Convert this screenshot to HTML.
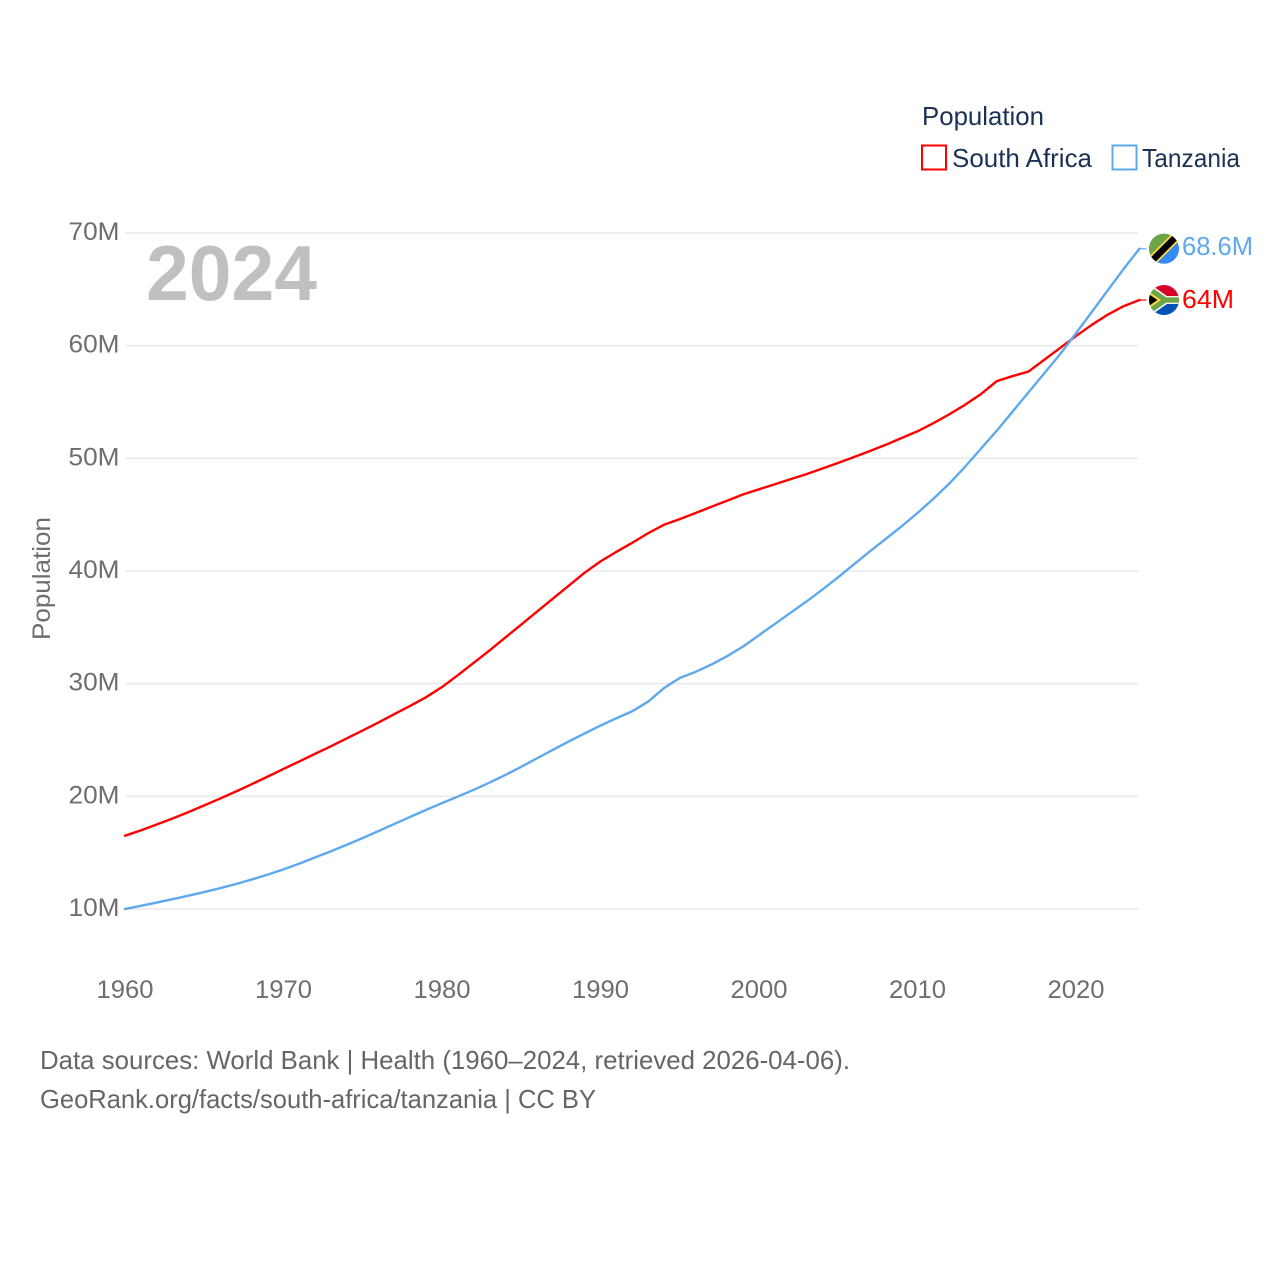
<!DOCTYPE html>
<html lang="en">
<head>
<meta charset="utf-8">
<title>Population: South Africa and Tanzania</title>
<style>
html,body{margin:0;padding:0;background:#fff;}
svg{display:block;font-family:"Liberation Sans",sans-serif;}
</style>
</head>
<body>
<svg id="chart" xmlns="http://www.w3.org/2000/svg" width="1280" height="1280" viewBox="0 0 1280 1280">
  <defs>
    <clipPath id="tz-clip"><circle cx="0" cy="0" r="15"/></clipPath>
    <clipPath id="za-clip"><circle cx="0" cy="0" r="15"/></clipPath>
  </defs>
  <rect width="1280" height="1280" fill="#ffffff"/>
  <g id="grid"></g>
  <text x="146" y="300" font-size="78" font-weight="700" fill="#c0c0c0" textLength="171" lengthAdjust="spacingAndGlyphs">2024</text>
  <g id="y-ticks"></g>
  <g id="x-ticks"></g>
  <text transform="translate(50 640) rotate(-90)" font-size="25" fill="#6e6e6e" textLength="123" lengthAdjust="spacingAndGlyphs">Population</text>
  <g id="series"></g>

  <g>
    <text x="922" y="125" font-size="26" fill="#1b3153" textLength="122" lengthAdjust="spacingAndGlyphs">Population</text>
    <g>
      <rect x="922" y="145.5" width="24" height="24" fill="#ffffff" stroke="#ff0000" stroke-width="2"/>
      <text x="952" y="167" font-size="26" fill="#1b3153" textLength="140" lengthAdjust="spacingAndGlyphs">South Africa</text>
    </g>
    <g>
      <rect x="1112.5" y="145.5" width="24" height="24" fill="#ffffff" stroke="#5fa8ee" stroke-width="2"/>
      <text x="1142" y="167" font-size="26" fill="#1b3153" textLength="98" lengthAdjust="spacingAndGlyphs">Tanzania</text>
    </g>
  </g>

  <g id="flag-tz">
    <g clip-path="url(#tz-clip)">
      <rect x="-16" y="-16" width="32" height="32" fill="#338af3"/>
      <polygon points="-16,-16 16,-16 -16,16" fill="#6da544"/>
      <line x1="-15" y1="15" x2="15" y2="-15" stroke="#ffda44" stroke-width="10"/>
      <line x1="-15" y1="15" x2="15" y2="-15" stroke="#000000" stroke-width="6.5"/>
    </g>
  </g>
  <g id="flag-za">
    <g clip-path="url(#za-clip)">
      <rect x="-16" y="-16" width="32" height="16" fill="#d80027"/>
      <rect x="-16" y="0" width="32" height="16" fill="#0052b4"/>
      <polygon points="-16,-12.5 -9,-12.5 3,-4 16,-4 16,4 3,4 -9,12.5 -16,12.5" fill="#f0f0f0"/>
      <polygon points="-16,-11 -10,-11 2,-2.6 16,-2.6 16,2.6 2,2.6 -10,11 -16,11" fill="#6da544"/>
      <polygon points="-16,-9 -3,0 -16,9" fill="#ffda44"/>
      <polygon points="-16,-6.5 -6.5,0 -16,6.5" fill="#000000"/>
    </g>
  </g>
  <g id="end-labels"></g>

  <g>
    <text x="40" y="1069" font-size="26" fill="#666666" textLength="810" lengthAdjust="spacingAndGlyphs">Data sources: World Bank | Health (1960–2024, retrieved 2026-04-06).</text>
    <text x="40" y="1108" font-size="26" fill="#666666" textLength="556" lengthAdjust="spacingAndGlyphs">GeoRank.org/facts/south-africa/tanzania | CC BY</text>
  </g>
</svg>
<script>
const years = [
  1960,1961,1962,1963,1964,1965,1966,1967,1968,1969,
  1970,1971,1972,1973,1974,1975,1976,1977,1978,1979,
  1980,1981,1982,1983,1984,1985,1986,1987,1988,1989,
  1990,1991,1992,1993,1994,1995,1996,1997,1998,1999,
  2000,2001,2002,2003,2004,2005,2006,2007,2008,2009,
  2010,2011,2012,2013,2014,2015,2016,2017,2018,2019,
  2020,2021,2022,2023,2024];
const southAfrica = [
  16.5,16.98,17.5,18.03,18.6,19.2,19.8,20.43,21.08,21.75,
  22.43,23.1,23.78,24.45,25.15,25.85,26.56,27.3,28.03,28.8,
  29.7,30.75,31.85,32.95,34.1,35.25,36.4,37.55,38.7,39.85,
  40.85,41.7,42.5,43.35,44.1,44.6,45.15,45.7,46.25,46.8,
  47.25,47.7,48.15,48.6,49.1,49.6,50.12,50.65,51.2,51.8,
  52.4,53.12,53.9,54.75,55.7,56.85,57.3,57.7,58.75,59.8,
  60.85,61.85,62.75,63.5,64.05];
const tanzania = [
  10.0,10.28,10.57,10.87,11.18,11.5,11.85,12.22,12.62,13.05,
  13.52,14.03,14.58,15.13,15.7,16.3,16.92,17.55,18.18,18.8,
  19.4,19.98,20.58,21.22,21.9,22.62,23.38,24.13,24.87,25.58,
  26.28,26.93,27.55,28.4,29.6,30.5,31.05,31.7,32.45,33.3,
  34.3,35.3,36.3,37.3,38.35,39.45,40.6,41.75,42.85,43.97,
  45.15,46.4,47.75,49.25,50.85,52.45,54.15,55.85,57.55,59.25,
  61.1,63.0,64.9,66.8,68.6];
const yTickValues = [10,20,30,40,50,60,70];
const yTickLabels = ["10M","20M","30M","40M","50M","60M","70M"];
const xTickValues = [1960,1970,1980,1990,2000,2010,2020];
const endValueLabels = ["64M","68.6M"];

const SVGNS = "http://www.w3.org/2000/svg";
function xScale(year){ return 125 + (year - 1960) * 15.85; }
function yScale(v){ return 909 - (v - 10) * 11.267; }
function make(tag, attrs, parent, text){
  const el = document.createElementNS(SVGNS, tag);
  for (const k in attrs) el.setAttribute(k, attrs[k]);
  if (text !== undefined) el.textContent = text;
  parent.appendChild(el);
  return el;
}
const gridG = document.getElementById("grid");
const yG = document.getElementById("y-ticks");
const xG = document.getElementById("x-ticks");
const seriesG = document.getElementById("series");
const endG = document.getElementById("end-labels");

yTickValues.forEach(function(v, i){
  const y = yScale(v);
  const line = make("line", {x1:125, x2:1138, y1:y, y2:y, stroke:"#e9e9e9", "stroke-width":1.5}, gridG);
  
  
  const t = make("text", {x:119.5, y:y+7, "text-anchor":"end", "font-size":25, fill:"#6e6e6e", textLength:51, lengthAdjust:"spacingAndGlyphs"}, yG, yTickLabels[i]);
  
  
});
xTickValues.forEach(function(year){
  const t = make("text", {x:xScale(year), y:998, "text-anchor":"middle", "font-size":25, fill:"#6e6e6e", textLength:57, lengthAdjust:"spacingAndGlyphs"}, xG, String(year));
  
  
});

function drawSeries(values, color, nameLine, nameLeader){
  const n = Math.min(values.length, years.length);
  const pts = [];
  for (let i = 0; i < n; i++) pts.push(xScale(years[i]).toFixed(2) + "," + yScale(values[i]).toFixed(2));
  const line = make("polyline", {points:pts.join(" "), fill:"none", stroke:color, "stroke-width":2.4, "stroke-linejoin":"round", "stroke-linecap":"round"}, seriesG);
  
  
  const endX = xScale(years[n-1]);
  const endY = yScale(values[n-1]);
  const leader = make("line", {x1:endX, x2:endX+7, y1:endY, y2:endY, stroke:color, "stroke-width":1.6, opacity:0.75}, seriesG);
  
  
  return endY;
}
const zaY = drawSeries(southAfrica, "#ff0000", "south-africa-line", "south-africa-leader");
const tzY = drawSeries(tanzania, "#5fa8ee", "tanzania-line", "tanzania-leader");

document.getElementById("flag-tz").setAttribute("transform", "translate(1164 " + tzY + ")");
document.getElementById("flag-za").setAttribute("transform", "translate(1164 " + zaY + ")");

const zaLabel = make("text", {x:1182, y:zaY+8, "font-size":25.5, fill:"#ff0000", textLength:52, lengthAdjust:"spacingAndGlyphs"}, endG, endValueLabels[0]);


const tzLabel = make("text", {x:1182, y:tzY+6, "font-size":25.5, fill:"#5fa8ee", textLength:71, lengthAdjust:"spacingAndGlyphs"}, endG, endValueLabels[1]);


</script>
</body>
</html>
